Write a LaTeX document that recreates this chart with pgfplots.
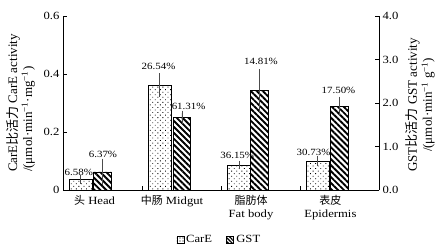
\documentclass[border=0pt]{standalone}
\usepackage{fontspec}
\setmainfont{Liberation Serif}[FakeStretch=1.15]
\newfontfamily\plainserif{Liberation Serif}
\newfontfamily\cjk{Noto Sans CJK SC}
\usepackage{pgfplots}
\pgfplotsset{compat=1.18}
\usetikzlibrary{patterns.meta}
\begin{document}
\begin{tikzpicture}
\useasboundingbox (0,0) rectangle (444pt,250pt);
\pgfplotsset{
  common/.style={
    at={(63pt,60pt)}, anchor=south west, scale only axis,
    width=316pt, height=174pt,
    xmin=0, xmax=4,
    axis line style={-, line width=0.8pt},
    tick style={black, line width=0.8pt},
    tick align=inside, major tick length=4pt,
    /pgf/number format/assume math mode=true,
    ticklabel style={font=\fontsize{11}{13}\selectfont},
  },
  errs/.style={error bars/.cd, y dir=both, y explicit,
    error bar style={black!70, line width=0.9pt},
    error mark options={black!70, line width=0.9pt, mark size=2.5pt}},
}
\begin{axis}[common,
  ymin=0, ymax=0.6,
  axis x line*=bottom, axis y line*=left,
  xtick={1,2,3}, xticklabels={},
  extra x ticks={0.40,1.38,2.38,3.385},
  extra x tick labels={{{\cjk 头} Head},{{\cjk 中肠} Midgut},{{\cjk 脂肪体}\\Fat body},{{\cjk 表皮}\\Epidermis}},
  extra x tick style={major tick length=0pt, xticklabel style={align=center, anchor=north, yshift=-2pt}},
  ytick={0,0.2,0.4,0.6}, yticklabels={0,0.2,0.4,0.6},
  ylabel={CarE{\cjk 比活力} CarE activity\\/(μmol·min\textsuperscript{−1}·mg\textsuperscript{−1})},
  every axis y label/.style={at={(axis description cs:-0.1345,0.5)}, rotate=90, anchor=center, align=left,
    font=\plainserif\fontsize{13}{15}\selectfont},
  legend style={at={(0.495,-0.287)}, anchor=center, draw=none, fill=none,
    legend columns=2, font=\fontsize{11}{13}\selectfont, inner sep=0pt,
    /tikz/every even column/.append style={column sep=12pt}},
]
\addplot[ybar, bar width=0.29, bar shift=0, draw=black, line width=0.8pt,
  pattern={Dots[distance=3.6pt, radius=0.6pt, angle=45]},
  legend image code/.code={\draw[black, line width=0.6pt, pattern={Dots[distance=3pt, radius=0.55pt]}] (0pt,-3.5pt) rectangle (7pt,3.5pt);},
  errs]
coordinates {(0.225,0.037) +- (0,0.006) (1.225,0.362) +- (0,0.032) (2.228,0.086) +- (0,0.006) (3.226,0.100) +- (0,0.009)};
\addlegendentry{CarE}
\addlegendimage{legend image code/.code={\draw[black, line width=0.6pt, pattern={Lines[angle=-45, distance=2.6pt, line width=1.2pt]}] (0pt,-3.5pt) rectangle (7pt,3.5pt);}}
\addlegendentry{GST}
\begin{scope}[font=\fontsize{9.5}{11}\selectfont]
\node at (axis cs:0.20,0.062) {6.58\%};
\node at (axis cs:0.506,0.124) {6.37\%};
\node at (axis cs:1.209,0.425) {26.54\%};
\node at (axis cs:1.59,0.287) {61.31\%};
\node at (axis cs:2.205,0.121) {36.15\%};
\node at (axis cs:2.506,0.442) {14.81\%};
\node at (axis cs:3.171,0.130) {30.73\%};
\node at (axis cs:3.487,0.342) {17.50\%};
\end{scope}
\end{axis}
\begin{axis}[common,
  ymin=0, ymax=4,
  axis x line=none, axis y line*=right,
  ytick={0,1,2,3,4}, yticklabels={0.0,1.0,2.0,3.0,4.0},
  ylabel={GST{\cjk 比活力} GST activity\\/(μmol·min\textsuperscript{−1} g\textsuperscript{−1})},
  every axis y label/.style={at={(axis description cs:1.131,0.489)}, rotate=90, anchor=center, align=center,
    font=\plainserif\fontsize{13}{15}\selectfont},
]
\addplot[ybar, bar width=0.225, bar shift=0, draw=black, line width=0.8pt,
  pattern={Lines[angle=-45, distance=4.2pt, line width=1.9pt]},
  errs]
coordinates {(0.50,0.414) +- (0,0.25) (1.506,1.67) +- (0,0.10) (2.49,2.29) +- (0,0.43) (3.50,1.93) +- (0,0.16)};
\end{axis}
\end{tikzpicture}
\end{document}
